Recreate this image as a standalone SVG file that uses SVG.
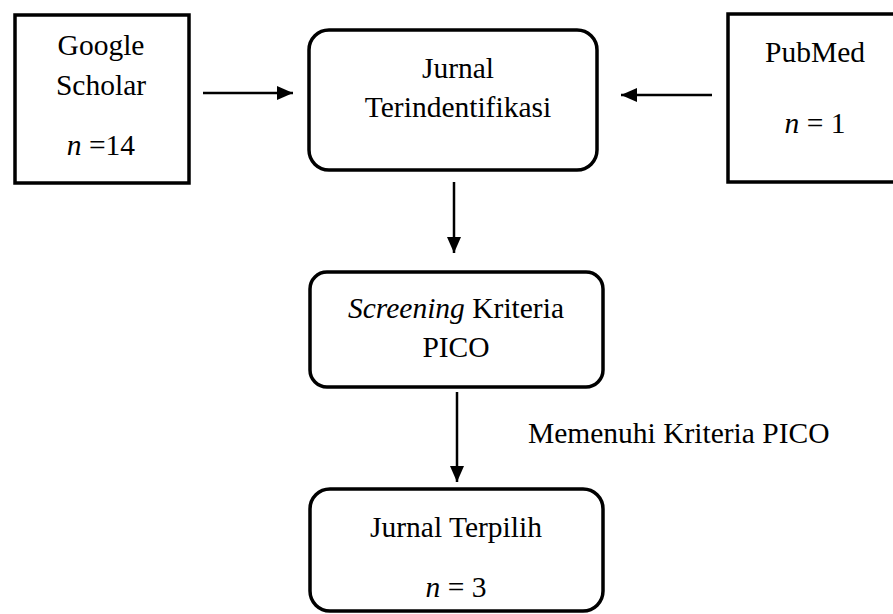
<svg xmlns="http://www.w3.org/2000/svg" width="893" height="614" viewBox="0 0 893 614">
<defs>
<style>
.box{fill:#fff;stroke:#000;stroke-width:3.5}
.t{font-family:"Liberation Serif","Times New Roman",serif;font-size:29.5px;fill:#000;text-anchor:middle}
.i{font-style:italic}
.c{stroke:#000;stroke-width:2.5;fill:none}
</style>
<marker id="ahl" markerWidth="16" markerHeight="14" refX="16" refY="7" orient="auto" markerUnits="userSpaceOnUse" viewBox="0 0 16 14">
<path d="M0,0 L16,7 L0,14 Z" fill="#000"/>
</marker>
</defs>
<g id="connectors">
<line class="c" x1="203" y1="93" x2="293" y2="93" marker-end="url(#ahl)"/>
<line class="c" x1="712" y1="95" x2="621" y2="95" marker-end="url(#ahl)"/>
<line class="c" x1="454" y1="182" x2="454" y2="253" marker-end="url(#ahl)"/>
<line class="c" x1="457" y1="392" x2="457" y2="482" marker-end="url(#ahl)"/>
<text class="t" x="528" y="443" style="text-anchor:start">Memenuhi Kriteria PICO</text>
</g>
<g id="google-scholar">
<rect class="box" x="15" y="15" width="174" height="168"/>
<text class="t" x="101" y="55">Google</text>
<text class="t" x="101" y="95">Scholar</text>
<text class="t" x="101" y="155"><tspan class="i">n</tspan> =14</text>
</g>
<g id="jurnal-terindentifikasi">
<rect class="box" x="309" y="30" width="288" height="140" rx="20"/>
<text class="t" x="458" y="78">Jurnal</text>
<text class="t" x="458" y="117">Terindentifikasi</text>
</g>
<g id="pubmed">
<rect class="box" x="728" y="14" width="170" height="168"/>
<text class="t" x="815" y="62">PubMed</text>
<text class="t" x="815" y="133"><tspan class="i">n</tspan> = 1</text>
</g>
<g id="screening">
<rect class="box" x="310" y="272" width="293" height="115" rx="17"/>
<text class="t" x="456" y="318"><tspan class="i">Screening</tspan> Kriteria</text>
<text class="t" x="456" y="357">PICO</text>
</g>
<g id="jurnal-terpilih">
<rect class="box" x="310" y="489" width="293" height="122" rx="20"/>
<text class="t" x="456" y="537">Jurnal Terpilih</text>
<text class="t" x="456" y="597"><tspan class="i">n</tspan> = 3</text>
</g>
</svg>
